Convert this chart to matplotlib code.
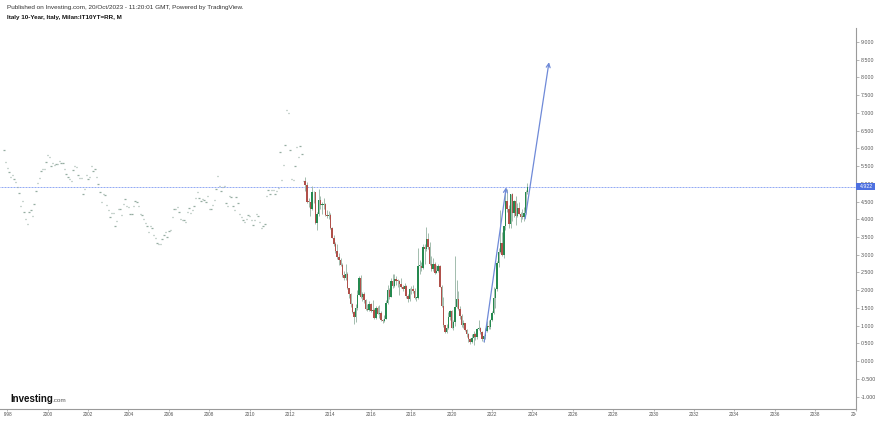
import numpy as np
import pandas as pd
import matplotlib
matplotlib.use("Agg")
import matplotlib.pyplot as plt
from matplotlib.patches import Rectangle
import matplotlib.transforms as mtrans

plt.rcParams['font.family'] = ['Liberation Sans', 'DejaVu Sans']

# ---------------- data ----------------
# monthly closes shown as single dashes (Nov 1997 - Sep 2012)
pre_start = '1997-11-01'
pre_close = [5.96, 5.62, 5.45, 5.34, 5.18, 5.24, 5.14, 5.05, 4.92, 4.74, 4.36, 4.52,
             4.21, 4.02, 3.86, 4.20, 4.26, 4.08, 4.43, 4.80, 5.03, 5.17, 5.37, 5.42,
             5.42, 5.62, 5.82, 5.76, 5.51, 5.59, 5.54, 5.56, 5.56, 5.65, 5.60, 5.58,
             5.41, 5.28, 5.18, 5.14, 5.09, 5.40, 5.50, 5.48, 5.26, 5.16, 5.16, 4.71,
             4.86, 5.24, 5.14, 5.20, 5.50, 5.37, 5.41, 5.18, 5.00, 4.77, 4.49, 4.71,
             4.69, 4.40, 4.26, 4.05, 4.19, 4.19, 3.81, 3.95, 4.30, 4.28, 4.13, 4.43,
             4.57, 4.38, 4.34, 4.15, 4.15, 4.36, 4.52, 4.48, 4.37, 4.15, 4.13, 4.00,
             3.90, 3.81, 3.64, 3.82, 3.75, 3.55, 3.47, 3.33, 3.31, 3.29, 3.44, 3.57,
             3.63, 3.50, 3.68, 3.69, 4.05, 4.28, 4.30, 4.35, 4.20, 4.00, 3.98, 3.98,
             3.93, 4.21, 4.31, 4.18, 4.26, 4.36, 4.60, 4.77, 4.60, 4.52, 4.58, 4.54,
             4.50, 4.67, 4.29, 4.29, 4.41, 4.55, 4.86, 5.23, 4.94, 4.80, 4.91, 4.94,
             4.45, 4.37, 4.66, 4.63, 4.37, 4.27, 4.62, 4.45, 4.15, 4.05, 3.98, 3.92,
             4.00, 4.11, 4.09, 3.98, 3.85, 3.98, 4.14, 4.09, 3.91, 3.75, 3.82, 3.87,
             4.67, 4.82, 4.71, 4.82, 4.82, 4.71, 4.79, 4.88, 5.89, 5.11, 5.54, 6.10,
             7.07, 7.00, 5.96, 5.14, 5.11, 5.51, 6.03, 5.77, 6.08, 5.85, 5.09]

# monthly OHLC candles (Oct 2012 - Oct 2023)
candle_start = '2012-10-01'
c_close = [4.96, 4.50, 4.49,
           4.30, 4.77, 4.76, 3.90, 4.15, 4.55, 4.40, 4.40, 4.42, 4.12, 4.10, 4.13,
           3.76, 3.48, 3.29, 3.10, 2.94, 2.85, 2.70, 2.43, 2.33, 2.45, 2.05, 1.89,
           1.60, 1.38, 1.25, 1.50, 1.85, 2.33, 1.81, 1.88, 1.72, 1.48, 1.44, 1.60,
           1.42, 1.45, 1.22, 1.49, 1.34, 1.35, 1.17, 1.13, 1.19, 1.65, 2.00, 1.82,
           2.27, 2.11, 2.31, 2.27, 2.26, 2.16, 2.10, 2.04, 2.11, 1.83, 1.74, 2.02,
           2.02, 1.98, 1.78, 1.78, 2.68, 2.68, 2.63, 3.22, 3.15, 3.43, 3.21, 2.74,
           2.60, 2.75, 2.49, 2.55, 2.67, 2.10, 1.54, 1.01, 0.83, 0.92, 1.23, 1.41,
           0.93, 1.10, 1.52, 1.76, 1.48, 1.26, 1.02, 1.06, 0.87, 0.76, 0.63, 0.54,
           0.64, 0.76, 0.67, 0.90, 0.92, 0.82, 0.62, 0.70, 0.86, 1.00, 0.97, 1.17,
           1.35, 1.78, 2.04, 2.76, 3.07, 3.33, 3.00, 3.80, 4.52, 4.29, 3.87, 4.70,
           4.17, 4.52, 4.09, 4.33, 4.16, 4.07, 4.06, 4.19, 4.78, 4.92]
c_open = [5.09, 4.96, 4.50,
          4.49, 4.30, 4.77, 4.76, 3.90, 4.15, 4.55, 4.40, 4.40, 4.42, 4.12, 4.10,
          4.13, 3.76, 3.48, 3.29, 3.10, 2.94, 2.85, 2.70, 2.43, 2.33, 2.45, 2.05,
          1.89, 1.60, 1.38, 1.25, 1.50, 1.85, 2.33, 1.81, 1.88, 1.72, 1.48, 1.44,
          1.60, 1.42, 1.45, 1.22, 1.49, 1.34, 1.35, 1.17, 1.13, 1.19, 1.65, 2.00,
          1.82, 2.27, 2.11, 2.31, 2.27, 2.26, 2.16, 2.10, 2.04, 2.11, 1.83, 1.74,
          2.02, 2.02, 1.98, 1.78, 1.78, 2.68, 2.68, 2.63, 3.22, 3.15, 3.43, 3.21,
          2.74, 2.60, 2.75, 2.49, 2.55, 2.67, 2.10, 1.54, 1.01, 0.83, 0.92, 1.23,
          1.41, 0.93, 1.10, 1.52, 1.76, 1.48, 1.26, 1.02, 1.06, 0.87, 0.76, 0.63,
          0.54, 0.64, 0.76, 0.67, 0.90, 0.92, 0.82, 0.62, 0.70, 0.86, 1.00, 0.97,
          1.17, 1.35, 1.78, 2.04, 2.76, 3.07, 3.33, 3.00, 3.80, 4.52, 4.29, 3.87,
          4.70, 4.17, 4.52, 4.09, 4.33, 4.16, 4.07, 4.06, 4.19, 4.78]
c_high = [5.20, 5.05, 4.60,
          4.50, 4.95, 4.80, 4.77, 4.20, 4.85, 4.65, 4.50, 4.60, 4.45, 4.25, 4.22,
          4.17, 3.78, 3.55, 3.35, 3.30, 3.05, 2.90, 2.78, 2.55, 2.74, 2.50, 2.07,
          1.92, 1.65, 1.40, 1.60, 2.00, 2.40, 2.42, 1.95, 1.95, 1.75, 1.60, 1.70,
          1.65, 1.72, 1.50, 1.55, 1.55, 1.58, 1.40, 1.20, 1.30, 1.72, 2.15, 2.05,
          2.35, 2.45, 2.45, 2.40, 2.32, 2.30, 2.35, 2.15, 2.20, 2.15, 1.90, 2.05,
          2.12, 2.15, 2.05, 1.82, 3.20, 2.85, 2.80, 3.30, 3.30, 3.79, 3.60, 3.35,
          2.95, 2.90, 2.80, 2.70, 2.75, 2.72, 2.15, 1.80, 1.02, 1.05, 1.38, 1.45,
          1.45, 1.15, 2.95, 2.30, 1.97, 1.55, 1.32, 1.15, 1.07, 0.90, 0.78, 0.65,
          0.75, 0.85, 0.80, 0.92, 1.15, 0.95, 0.85, 0.72, 0.92, 1.12, 1.15, 1.20,
          1.42, 2.10, 2.05, 2.82, 3.20, 4.27, 3.65, 3.80, 4.80, 4.85, 4.40, 4.72,
          4.75, 4.55, 4.65, 4.45, 4.50, 4.20, 4.30, 4.35, 4.82, 5.02]
c_low = [4.80, 4.45, 4.35,
         4.09, 4.25, 4.45, 3.86, 3.70, 4.10, 4.30, 4.15, 4.30, 4.10, 4.04, 4.00,
         3.72, 3.46, 3.25, 3.05, 2.88, 2.72, 2.68, 2.38, 2.28, 2.28, 2.02, 1.78,
         1.52, 1.35, 1.05, 1.10, 1.45, 1.85, 1.78, 1.70, 1.65, 1.45, 1.42, 1.40,
         1.38, 1.35, 1.20, 1.20, 1.33, 1.22, 1.12, 1.08, 1.10, 1.18, 1.62, 1.75,
         1.80, 2.05, 2.08, 2.15, 2.10, 1.85, 2.05, 1.98, 1.98, 1.78, 1.66, 1.70,
         1.88, 1.93, 1.76, 1.70, 1.76, 2.45, 2.55, 2.60, 2.75, 3.10, 3.15, 2.70,
         2.55, 2.55, 2.45, 2.48, 2.50, 2.08, 1.52, 0.95, 0.78, 0.80, 0.90, 1.15,
         0.92, 0.87, 1.00, 1.50, 1.45, 1.20, 0.95, 0.92, 0.85, 0.68, 0.55, 0.49,
         0.50, 0.46, 0.60, 0.63, 0.87, 0.75, 0.58, 0.53, 0.62, 0.82, 0.90, 0.90,
         1.12, 1.32, 1.50, 1.98, 2.65, 3.05, 2.95, 2.90, 3.70, 4.20, 3.75, 3.75,
         3.95, 4.05, 3.85, 4.05, 4.15, 3.92, 4.00, 3.95, 4.15, 4.70]

last_price = 4.922
y_ticks = [-1.0, -0.5, 0.0, 0.5, 1.0, 1.5, 2.0, 2.5, 3.0, 3.5, 4.0, 4.5,
           5.0, 5.5, 6.0, 6.5, 7.0, 7.5, 8.0, 8.5, 9.0]
x_tick_years = list(range(1998, 2042, 2))
x_tick_labels = [str(y) for y in x_tick_years]
# drawn trend arrows: (year, value) start -> end
arrow1 = [(2021.61, 0.54), (2022.70, 4.90)]
arrow2 = [(2023.64, 4.01), (2024.82, 8.43)]

title_line1 = "Published on Investing.com, 20/Oct/2023 - 11:20:01 GMT, Powered by TradingView."
title_line2 = "Italy 10-Year, Italy, Milan:IT10YT=RR, M"


def frac_year(dates):
    return np.array([d.year + (d.month - 1) / 12.0 for d in dates])


pre_x = frac_year(pd.date_range(pre_start, periods=len(pre_close), freq='MS'))
cx = frac_year(pd.date_range(candle_start, periods=len(c_close), freq='MS'))
o = np.array(c_open); h = np.array(c_high); l = np.array(c_low); c = np.array(c_close)

# ---------------- figure ----------------
W, H = 880, 421
fig = plt.figure(figsize=(W / 100, H / 100), dpi=100)
fig.patch.set_facecolor('white')

ax_right_px, ax_bot_px, ax_top_px = 856, 409, 28
ax = fig.add_axes([0, 1 - ax_bot_px / H, ax_right_px / W, (ax_bot_px - ax_top_px) / H])
xlim = (1997.64, 2040.02)
ylim = (-1.352, 9.395)
ax.set_xlim(*xlim)
ax.set_ylim(*ylim)

# pre-2012 dashes
ax.hlines(pre_close, pre_x - 0.035, pre_x + 0.035, color='#95ada1', lw=0.9, zorder=3)

# candles
up = c >= o
wick_col = '#a3bcae'
ax.vlines(cx, l, h, color=wick_col, lw=0.7, zorder=3)
body_bot = np.minimum(o, c)
body_h = np.maximum(np.abs(c - o), 0.02)
ax.bar(cx[up], body_h[up], bottom=body_bot[up], width=0.07, color='#25894f',
       edgecolor='none', zorder=4)
ax.bar(cx[~up], body_h[~up], bottom=body_bot[~up], width=0.07, color='#b0504a',
       edgecolor='none', zorder=4)

# last price line
ax.axhline(last_price, color='#5f82f0', lw=0.6, ls=(0, (1.2, 0.6)), alpha=0.8, zorder=2)

# arrows
arrow_col = '#6f8ad8'
for a in (arrow1, arrow2):
    ax.annotate('', xy=a[1], xytext=a[0],
                arrowprops=dict(arrowstyle='->', color=arrow_col, lw=0.9,
                                mutation_scale=7, shrinkA=0, shrinkB=0),
                zorder=6)

# spines / ticks
for s in ('top', 'left'):
    ax.spines[s].set_visible(False)
for s in ('right', 'bottom'):
    ax.spines[s].set_color('#9a9a9a')
    ax.spines[s].set_linewidth(0.8)
ax.yaxis.tick_right()
ax.set_yticks(y_ticks)
ax.set_yticklabels([f"{v:.3f}" for v in y_ticks])
ax.tick_params(axis='y', length=2, width=0.5, color='#9a9a9a', labelsize=3.8,
               labelcolor='#555555', pad=1.5)
ax.set_xticks(x_tick_years)
ax.tick_params(axis='x', length=1.5, width=0.5, color='#9a9a9a', labelbottom=False)

# last price label box
blend = mtrans.blended_transform_factory(fig.transFigure, ax.transData)
ax.add_patch(Rectangle((ax_right_px / W, last_price - 0.1), 19 / W, 0.2,
                       transform=blend, facecolor='#4d70e0', edgecolor='none',
                       clip_on=False, zorder=10))
ax.text(866 / W, last_price, f"{last_price:.3f}", transform=blend, color='white',
        fontsize=3.8, ha='center', va='center', zorder=11, clip_on=False)

# x tick labels on a clipped strip axes
lab_left_px = 4
lab = fig.add_axes([lab_left_px / W, 0, (ax_right_px - lab_left_px) / W, (H - ax_bot_px) / H])
span = xlim[1] - xlim[0]
lab.set_xlim(xlim[0] + span * lab_left_px / ax_right_px, xlim[1])
lab.set_ylim(0, 1)
lab.axis('off')
for yr, txt in zip(x_tick_years, x_tick_labels):
    lab.text(yr, 0.5, txt, ha='center', va='center', fontsize=3.4, color='#555555',
             clip_on=True)

# header
fig.text(7 / W, 1 - 7 / H, title_line1, fontsize=4.55, color='#333333', va='center', ha='left')
fig.text(7 / W, 1 - 18 / H, title_line2, fontsize=4.5, color='#111111', va='center',
         ha='left', fontweight='bold')

# Investing logo
fig.text(10 / W, 1 - 399 / H, "Investing", fontsize=7.0, fontweight='bold',
         color='#111111', va='center', ha='left')
fig.text(52.5 / W, 1 - 400 / H, ".com", fontsize=4.6, color='#555555', va='center', ha='left')

fig.savefig('out.png', dpi=100, facecolor='white')
